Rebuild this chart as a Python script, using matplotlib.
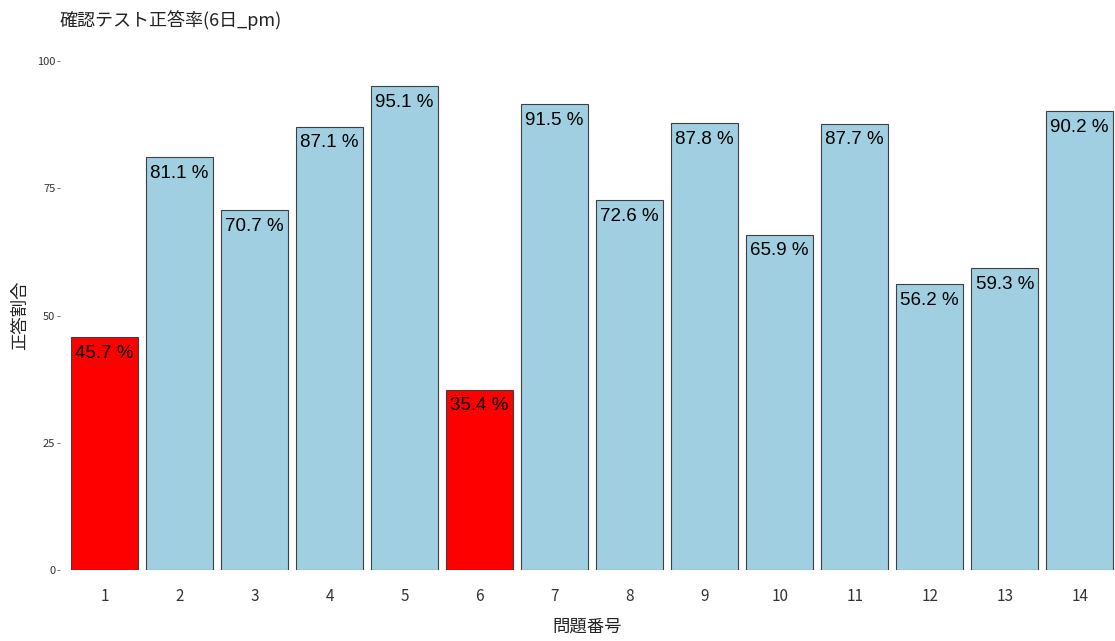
import matplotlib.pyplot as plt

# 問題ごとの正答率
mondai = ['1', '2', '3', '4', '5', '6', '7', '8', '9', '10', '11', '12', '13', '14']
seitou = [45.7, 81.1, 70.7, 87.1, 95.1, 35.4, 91.5, 72.6, 87.8, 65.9, 87.7, 56.2, 59.3, 90.2]
y_ticks = [0, 25, 50, 75, 100]

jp = ['Noto Sans CJK JP', 'DejaVu Sans']
plt.rcParams['font.family'] = jp

W, H = 1115, 641
fig = plt.figure(figsize=(W / 100, H / 100), dpi=100)
ax = fig.add_axes([59.5 / W, (H - 570) / H, (W - 59.5) / W, 509 / H])

xs = list(range(1, len(mondai) + 1))
colores = ['#FF0000' if v < 50 else '#9FCFE0' for v in seitou]
ax.bar(xs, seitou, width=0.9, color=colores, edgecolor='#3F3F3F', linewidth=0.8)

for x, v in zip(xs, seitou):
    ax.annotate(f'{v} %', (x, v), xytext=(0, -5.5), textcoords='offset points',
                ha='center', va='top', fontsize=13.5, family='Liberation Sans',
                color='black')

ax.set_xlim(0.4, 14.47)
ax.set_ylim(0, 100)
ax.set_xticks(xs)
ax.set_xticklabels(mondai)
ax.set_yticks(y_ticks)
ax.tick_params(axis='x', length=0, pad=13, labelsize=11, labelcolor='#333333')
ax.tick_params(axis='y', length=2, width=0.6, color='#555555', pad=1,
               labelsize=8, labelcolor='#333333')
for s in ax.spines.values():
    s.set_visible(False)

ax.set_xlabel('問題番号', fontsize=12.5, color='#222222', labelpad=9)
ax.set_ylabel('正答割合', fontsize=12.5, color='#222222', labelpad=6)
fig.text(60 / W, 1 - 20 / H, '確認テスト正答率(6日_pm)', fontsize=13,
         color='#222222', va='center', ha='left')

fig.savefig('out.png', dpi=100)
